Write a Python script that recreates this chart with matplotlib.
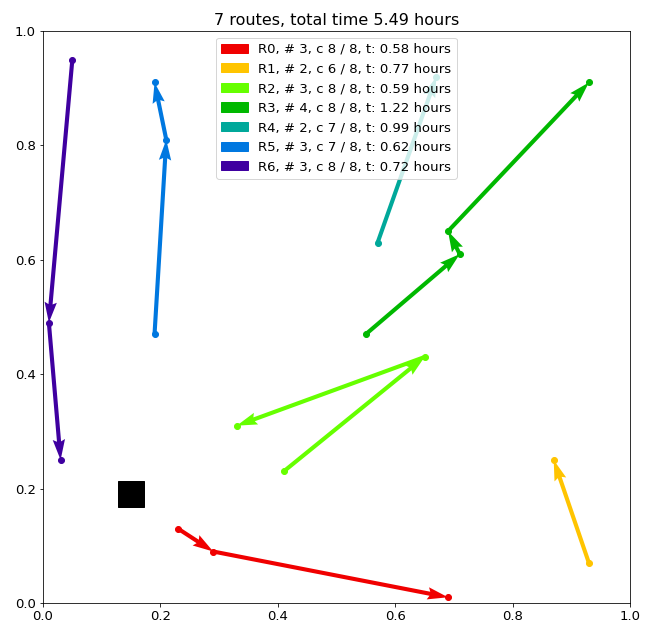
import matplotlib
matplotlib.use('Agg')
import matplotlib.pyplot as plt
import matplotlib.patches as mpatches
import numpy as np

# route points (customer order)
R0_x = [0.23, 0.29, 0.69]
R0_y = [0.13, 0.09, 0.01]
R1_x = [0.93, 0.87]
R1_y = [0.07, 0.25]
R2_x = [0.41, 0.65, 0.33]
R2_y = [0.23, 0.43, 0.31]
R3_x = [0.55, 0.71, 0.69, 0.93]
R3_y = [0.47, 0.61, 0.65, 0.91]
R4_x = [0.57, 0.67]
R4_y = [0.63, 0.92]
R5_x = [0.19, 0.21, 0.19]
R5_y = [0.47, 0.81, 0.91]
R6_x = [0.05, 0.01, 0.03]
R6_y = [0.95, 0.49, 0.25]

depot_x = 0.15
depot_y = 0.19

routes_x = [R0_x, R1_x, R2_x, R3_x, R4_x, R5_x, R6_x]
routes_y = [R0_y, R1_y, R2_y, R3_y, R4_y, R5_y, R6_y]
customers = [3, 2, 3, 4, 2, 3, 3]
capacity = [8, 6, 8, 8, 7, 7, 8]
times = [0.58, 0.77, 0.59, 1.22, 0.99, 0.62, 0.72]
colors = ['#f00000', '#ffc400', '#66ff00', '#00b800', '#00a89a', '#0078e0', '#3f00a0']

plt.rcParams['font.size'] = 13.2

fig = plt.figure(figsize=(651/72, 631/72), dpi=72)
ax = fig.add_axes([43/651, 28/631, 587/651, 572/631])

handles = []
for i in range(len(routes_x)):
    x = np.array(routes_x[i])
    y = np.array(routes_y[i])
    ax.plot(x, y, 'o', color=colors[i], ms=6)
    ax.quiver(x[:-1], y[:-1], x[1:] - x[:-1], y[1:] - y[:-1],
              angles='xy', scale_units='xy', scale=1, color=colors[i], width=0.007)
    lbl = 'R%d, # %d, c %d / 8, t: %.2f hours' % (i, customers[i], capacity[i], times[i])
    handles.append(mpatches.Patch(color=colors[i], label=lbl))

ax.plot(depot_x, depot_y, 's', color='black', ms=26)

ax.set_xlim(0, 1)
ax.set_ylim(0, 1)
ax.set_title('7 routes, total time %.2f hours' % sum(times), fontsize=16)
ax.legend(handles=handles, loc='upper center')

fig.savefig('out.png', dpi=72)
